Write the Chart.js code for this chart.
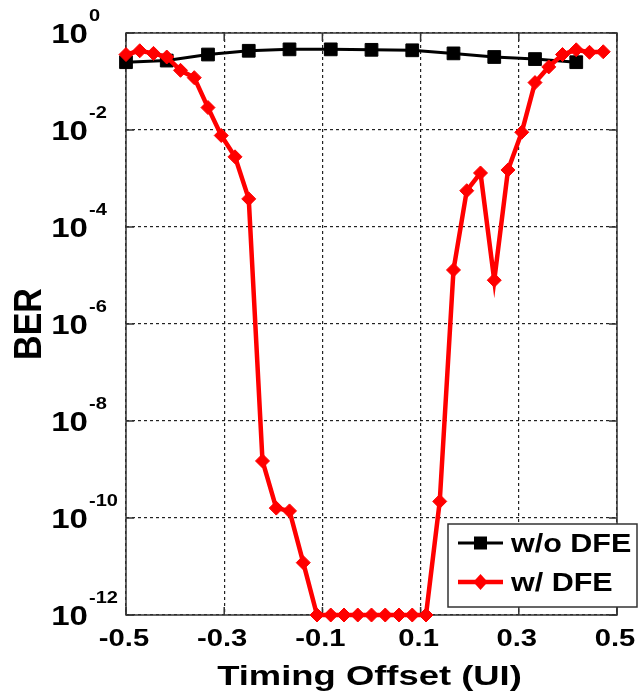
<!DOCTYPE html>
<html>
<head>
<meta charset="utf-8">
<script src="https://cdn.jsdelivr.net/npm/chart.js@4.4.1/dist/chart.umd.min.js"></script>
<style>
  html, body { margin: 0; padding: 0; background: #fff; }
  #wrap { width: 639px; height: 691px; position: relative; }
</style>
</head>
<body>
<div id="wrap"><canvas id="berChart" width="639" height="691"></canvas></div>
<script>
// axis ticks
const xTickValues = [-0.5, -0.3, -0.1, 0.1, 0.3, 0.5];
const xTickLabels = ["-0.5", "-0.3", "-0.1", "0.1", "0.3", "0.5"];
const yTickExps = [0, -2, -4, -6, -8, -10, -12];

// w/o DFE (sampled every 1/12 UI)
const offsetNoDfe = [-0.5, -0.417, -0.333, -0.25, -0.167, -0.083, 0, 0.083, 0.167, 0.25, 0.333, 0.417];
const berNoDfe = [0.25, 0.27, 0.36, 0.43, 0.46, 0.46, 0.45, 0.44, 0.38, 0.32, 0.29, 0.25];

// w/ DFE (sampled every 1/36 UI)
const offsetDfe = [
  -0.5, -0.472, -0.444, -0.417, -0.389, -0.361, -0.333, -0.306, -0.278, -0.25,
  -0.222, -0.194, -0.167, -0.139, -0.111, -0.083, -0.056, -0.028, 0, 0.028,
  0.056, 0.083, 0.111, 0.139, 0.167, 0.194, 0.222, 0.25, 0.278, 0.306,
  0.333, 0.361, 0.389, 0.417, 0.444, 0.472
];
const berDfe = [
  0.36, 0.43, 0.38, 0.32, 0.17, 0.12, 0.029, 0.0077, 0.0028, 3.8e-4,
  1.5e-9, 1.6e-10, 1.4e-10, 1.2e-11, 1e-12, 1e-12, 1e-12, 1e-12, 1e-12, 1e-12,
  1e-12, 1e-12, 1e-12, 2.2e-10, 1.3e-5, 5.6e-4, 1.3e-3, 8e-6, 1.5e-3, 9e-3,
  0.095, 0.2, 0.36, 0.45, 0.4, 0.41
];

const legendLabels = ["w/o DFE", "w/ DFE"];

const FONT = '"Liberation Sans", Arial, sans-serif';

// text with a little horizontal stretch, like the original figure
function stretchText(ctx, s, x, y, size, align, sx) {
  ctx.save();
  ctx.translate(x, y);
  ctx.scale(sx, 1);
  ctx.font = "bold " + size + "px " + FONT;
  ctx.textAlign = align;
  ctx.textBaseline = "alphabetic";
  ctx.fillStyle = "#000";
  ctx.fillText(s, 0, 0);
  ctx.restore();
}

function marker(ctx, style, x, y, r, color) {
  ctx.save();
  ctx.fillStyle = color;
  ctx.beginPath();
  if (style === "rect") {
    ctx.rect(x - r, y - r, 2 * r, 2 * r);
  } else {
    ctx.moveTo(x, y - r);
    ctx.lineTo(x + r * 0.9, y);
    ctx.lineTo(x, y + r);
    ctx.lineTo(x - r * 0.9, y);
    ctx.closePath();
  }
  ctx.fill();
  ctx.restore();
}

const axesPlugin = {
  id: "matlabAxes",
  beforeDatasetsDraw(chart) {
    const { ctx, chartArea: a, scales } = chart;
    ctx.save();
    ctx.strokeStyle = "#333";
    ctx.lineWidth = 1.5;
    // inward ticks
    ctx.beginPath();
    xTickValues.forEach(v => {
      const px = scales.x.getPixelForValue(v);
      ctx.moveTo(px, a.bottom); ctx.lineTo(px, a.bottom - 8);
      ctx.moveTo(px, a.top); ctx.lineTo(px, a.top + 8);
    });
    yTickExps.forEach(e => {
      const py = scales.y.getPixelForValue(Math.pow(10, e));
      ctx.moveTo(a.left, py); ctx.lineTo(a.left + 8, py);
      ctx.moveTo(a.right, py); ctx.lineTo(a.right - 8, py);
    });
    ctx.stroke();
    ctx.strokeRect(a.left, a.top, a.right - a.left, a.bottom - a.top);
    ctx.restore();
  },
  afterDraw(chart) {
    const { ctx, chartArea: a, scales } = chart;

    // x tick labels
    xTickValues.forEach((v, i) => {
      const px = scales.x.getPixelForValue(v);
      stretchText(ctx, xTickLabels[i], px - 2, a.bottom + 31, 23, "center", 1.27);
    });
    // y tick labels: 10 with superscript exponent
    yTickExps.forEach(e => {
      const py = scales.y.getPixelForValue(Math.pow(10, e));
      stretchText(ctx, "10", 88, py + 10, 28, "right", 1.18);
      stretchText(ctx, String(e), 89, py - 12, 17, "left", 1.18);
    });

    // axis titles
    stretchText(ctx, "Timing Offset (UI)", (a.left + a.right) / 2 - 2, 685, 28, "center", 1.3);
    ctx.save();
    ctx.translate(41, (a.top + a.bottom) / 2);
    ctx.rotate(-Math.PI / 2);
    ctx.scale(1, 1.15);
    ctx.font = "bold 34px " + FONT;
    ctx.textAlign = "center";
    ctx.textBaseline = "alphabetic";
    ctx.fillStyle = "#000";
    ctx.fillText("BER", 0, 0);
    ctx.restore();

    // legend box
    const bx = 448, by = 524, bw = 189, bh = 83;
    ctx.save();
    ctx.fillStyle = "#fff";
    ctx.fillRect(bx, by, bw, bh);
    ctx.strokeStyle = "#333";
    ctx.lineWidth = 1.5;
    ctx.strokeRect(bx, by, bw, bh);
    const rows = [
      { y: 543, color: "#000", style: "rect", lw: 3, r: 6.5 },
      { y: 582, color: "#ff0000", style: "diamond", lw: 4.5, r: 8 }
    ];
    rows.forEach((row, i) => {
      ctx.strokeStyle = row.color;
      ctx.lineWidth = row.lw;
      ctx.beginPath();
      ctx.moveTo(458, row.y); ctx.lineTo(503, row.y);
      ctx.stroke();
      marker(ctx, row.style, 480.5, row.y, row.r, row.color);
      stretchText(ctx, legendLabels[i], 511, row.y + 9, 25, "left", 1.22);
    });
    ctx.restore();
  }
};

new Chart(document.getElementById("berChart"), {
  type: "line",
  data: {
    datasets: [
      {
        label: legendLabels[0],
        data: offsetNoDfe.map((x, i) => ({ x, y: berNoDfe[i] })),
        borderColor: "#000",
        backgroundColor: "#000",
        borderWidth: 3,
        pointStyle: "rect",
        pointRadius: 9,
        pointBorderWidth: 1,
        tension: 0,
        clip: false,
        order: 2
      },
      {
        label: legendLabels[1],
        data: offsetDfe.map((x, i) => ({ x, y: berDfe[i] })),
        borderColor: "#ff0000",
        backgroundColor: "#ff0000",
        borderWidth: 4.5,
        pointStyle: "rectRot",
        pointRadius: 7,
        pointBorderWidth: 1,
        tension: 0,
        clip: false,
        order: 1
      }
    ]
  },
  options: {
    responsive: false,
    animation: false,
    layout: { padding: { left: 126, right: 22, top: 33, bottom: 76 } },
    plugins: { legend: { display: false }, tooltip: { enabled: false } },
    scales: {
      x: {
        type: "linear",
        min: -0.5,
        max: 0.5,
        afterBuildTicks: s => { s.ticks = xTickValues.map(v => ({ value: v })); },
        afterFit: s => { s.height = 0; },
        ticks: { display: false },
        grid: { color: "#222", lineWidth: 1.2, drawTicks: false },
        border: { display: false, dash: [3, 3] }
      },
      y: {
        type: "logarithmic",
        min: 1e-12,
        max: 1,
        afterBuildTicks: s => { s.ticks = yTickExps.map(e => ({ value: Math.pow(10, e) })); },
        afterFit: s => { s.width = 0; },
        ticks: { display: false },
        grid: { color: "#222", lineWidth: 1.2, drawTicks: false },
        border: { display: false, dash: [3, 3] }
      }
    }
  },
  plugins: [axesPlugin]
});
</script>
</body>
</html>
